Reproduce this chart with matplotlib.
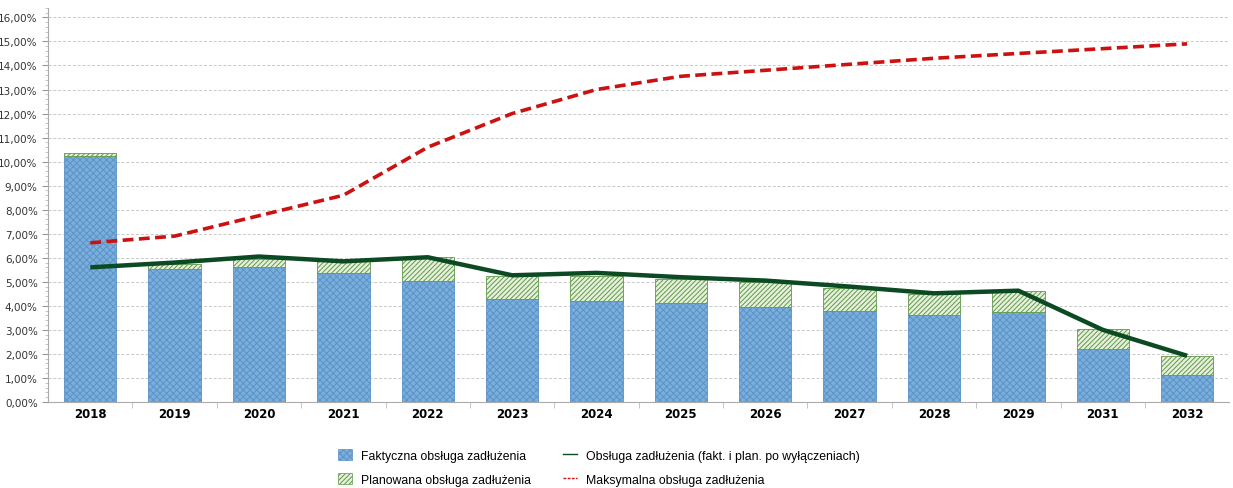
import matplotlib.pyplot as plt
import matplotlib.ticker as mticker
import numpy as np
from matplotlib.lines import Line2D
from matplotlib.patches import Patch

years = ['2018', '2019', '2020', '2021', '2022', '2023', '2024',
         '2025', '2026', '2027', '2028', '2029', '2031', '2032']
faktyczna = [10.25, 5.55, 5.6, 5.35, 5.03, 4.29, 4.22, 4.11, 3.97, 3.8, 3.6, 3.76, 2.22, 1.13]
razem = [10.37, 5.75, 5.95, 5.85, 6.03, 5.26, 5.26, 5.12, 4.99, 4.75, 4.5, 4.63, 3.03, 1.93]
obsluga = [5.6, 5.8, 6.05, 5.85, 6.02, 5.27, 5.37, 5.19, 5.05, 4.8, 4.52, 4.63, 3.0, 1.92]
maksymalna = [6.62, 6.9, 7.75, 8.6, 10.6, 12.0, 13.0, 13.55, 13.8, 14.05, 14.3, 14.5, 14.7, 14.9]

planowana = [r - f for r, f in zip(razem, faktyczna)]

plt.rcParams['font.family'] = ['DejaVu Sans']
plt.rcParams['hatch.linewidth'] = 0.7

fig = plt.figure(figsize=(12.33, 4.89), dpi=100)
ax = fig.add_axes([0.039, 0.176, 0.958, 0.806])

x = np.arange(len(years))
w = 0.62
ax.bar(x, faktyczna, w, color='#7aaedb', edgecolor='#5b92c8', hatch='xxxxx', linewidth=0.6, zorder=2)
ax.bar(x, planowana, w, bottom=faktyczna, color='#e6f0dc', edgecolor='#5f9a48', hatch='///////',
       linewidth=0.6, zorder=2)
ax.plot(x, obsluga, color='#0b4a22', lw=3.2, zorder=3, solid_capstyle='butt')
ax.plot(x, maksymalna, color='#cc1111', lw=2.6, ls=(0, (3, 1.5)), zorder=3)

ax.set_xlim(-0.5, len(years) - 0.5)
ax.set_ylim(0, 16.4)
ax.set_xticks(x)
ax.set_xticklabels(years, fontweight='bold', fontsize=8.5)
ax.set_yticks(np.arange(0, 17, 1))
ax.yaxis.set_major_formatter(mticker.FuncFormatter(lambda v, p: f'{v:.2f}%'.replace('.', ',')))
ax.yaxis.set_minor_locator(mticker.MultipleLocator(0.2))
ax.set_xticks(x[:-1] + 0.5, minor=True)
ax.tick_params(axis='y', labelsize=7.5, length=4, color='#999999', labelcolor='#333333')
ax.tick_params(axis='y', which='minor', length=2, color='#bbbbbb')
ax.tick_params(axis='x', which='major', length=0, pad=4)
ax.tick_params(axis='x', which='minor', length=4, color='#bbbbbb')
ax.grid(axis='y', color='#c8c8c8', ls=(0, (3, 2)), lw=0.7, zorder=0)

for s in ['top', 'right']:
    ax.spines[s].set_visible(False)
ax.spines['left'].set_color('#aaaaaa')
ax.spines['bottom'].set_color('#aaaaaa')

handles = [
    Patch(facecolor='#7aaedb', edgecolor='#5b92c8', hatch='xxxxx', lw=0.5),
    Patch(facecolor='#e6f0dc', edgecolor='#5f9a48', hatch='///////', lw=0.5),
    Line2D([], [], color='#0b4a22', lw=1),
    Line2D([], [], color='#cc1111', lw=1, ls=(0, (2, 1))),
]
labels = ['Faktyczna obsługa zadłużenia', 'Planowana obsługa zadłużenia',
          'Obsługa zadłużenia (fakt. i plan. po wyłączeniach)', 'Maksymalna obsługa zadłużenia']
fig.legend(handles, labels, ncol=2, loc='lower left', bbox_to_anchor=(0.265, -0.018),
           frameon=False, prop={'family': 'Liberation Sans', 'size': 8.8},
           handlelength=1.2, handleheight=1.0,
           columnspacing=2.6, labelspacing=0.9, handletextpad=0.7)

fig.savefig('out.png', dpi=100)
